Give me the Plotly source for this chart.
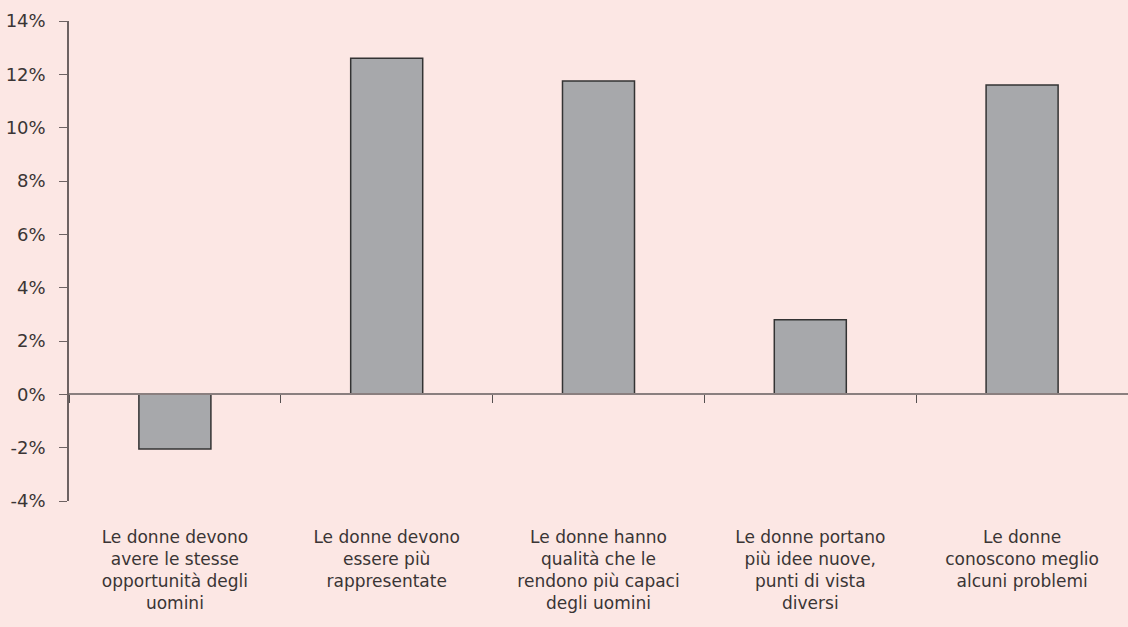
import plotly.graph_objects as go

categories = [
    "Le donne devono<br>avere le stesse<br>opportunità degli<br>uomini",
    "Le donne devono<br>essere più<br>rappresentate",
    "Le donne hanno<br>qualità che le<br>rendono più capaci<br>degli uomini",
    "Le donne portano<br>più idee nuove,<br>punti di vista<br>diversi",
    "Le donne<br>conoscono meglio<br>alcuni problemi",
]
values = [-2.05, 12.6, 11.75, 2.8, 11.6]
y_ticks = [-4, -2, 0, 2, 4, 6, 8, 10, 12, 14]

y_min, y_max = -4, 14
bg = "#FCE7E4"
text_color = "#3a3535"
font = dict(family="DejaVu Sans", size=17, color=text_color)

fig = go.Figure()

# bars drawn on the axis that sits at 0%
fig.add_trace(go.Bar(
    x=categories, y=values, xaxis="x", yaxis="y",
    width=0.34,
    marker=dict(color="#A7A8AB", line=dict(color="#333333", width=1.5)),
    hoverinfo="skip",
))
# invisible copy so the label axis at the bottom gets drawn
fig.add_trace(go.Bar(
    x=categories, y=values, xaxis="x2", yaxis="y",
    width=0.34, opacity=0, hoverinfo="skip",
))

fig.update_layout(
    width=1128, height=627,
    margin=dict(l=69, r=0, t=21, b=126),
    paper_bgcolor=bg, plot_bgcolor=bg,
    showlegend=False,
    font=font,
    xaxis=dict(
        anchor="free",
        position=(0 - y_min) / (y_max - y_min),
        showline=True, linecolor="#8a7f7f", linewidth=2,
        ticks="outside", tickson="boundaries", ticklen=8,
        tickcolor="#555050", tickwidth=1,
        showticklabels=False, showgrid=False, zeroline=False,
    ),
    xaxis2=dict(
        overlaying="x", matches="x", anchor="y", side="bottom",
        showline=False, ticks="", showgrid=False, zeroline=False,
        tickfont=font, ticklabelstandoff=24,
    ),
    yaxis=dict(
        range=[y_min, y_max],
        tickvals=y_ticks, ticktext=[f"{v}%" for v in y_ticks],
        showline=True, linecolor="#6d6262", linewidth=1.5,
        ticks="outside", ticklen=8, tickcolor="#6d6262",
        showgrid=False, zeroline=False,
        tickfont=dict(family="DejaVu Sans", size=18, color=text_color),
        ticklabelstandoff=10,
    ),
    bargap=0.66,
)

fig.write_html(
    "out.html",
    config={"displayModeBar": False},
    post_script="document.body.style.margin='0';document.body.style.background='%s';" % bg,
)
